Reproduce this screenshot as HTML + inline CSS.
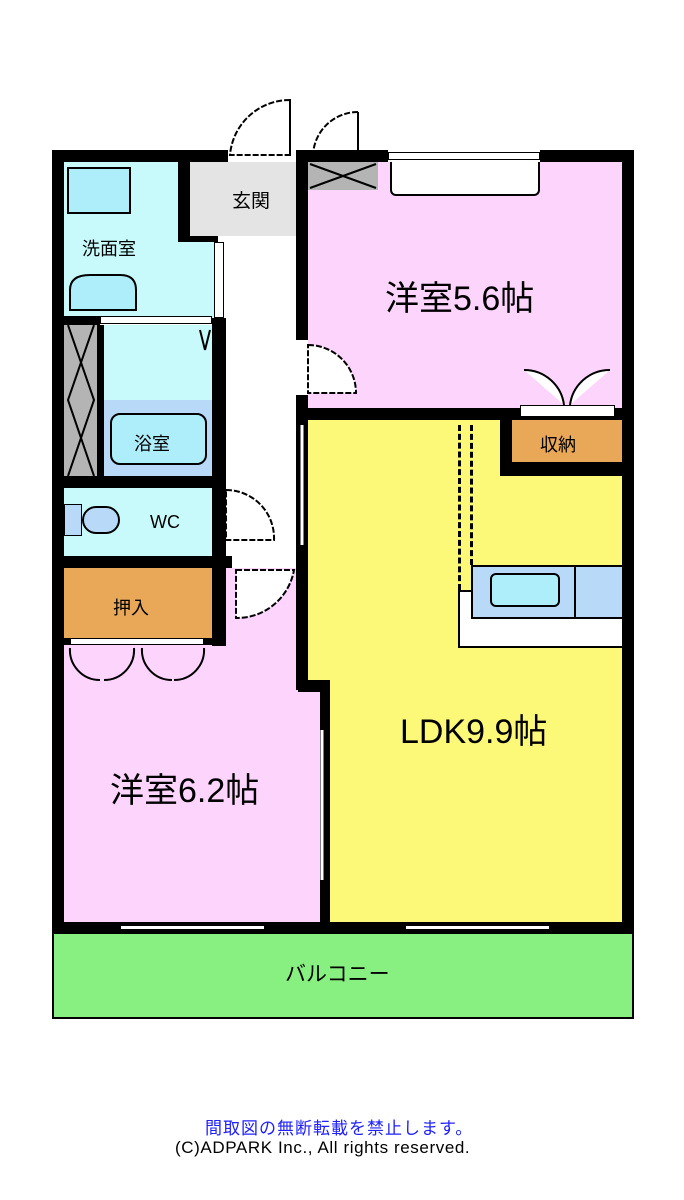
<!DOCTYPE html>
<html><head><meta charset="utf-8"><style>
html,body{margin:0;padding:0;background:#fff;}
#c{position:relative;width:684px;height:1200px;overflow:hidden;font-family:"Liberation Sans","Noto Sans CJK JP",sans-serif;}
.a{position:absolute;box-sizing:border-box;}
.k{background:#000;}
.t{position:absolute;white-space:nowrap;color:#000;}
</style></head><body><div id="c">
<div class="a" style="left:52px;top:932px;width:582px;height:87px;background:#88f080;border:2px solid #000;"></div>
<div class="t" style="left:285px;top:958px;font-size:21px;">バルコニー</div>
<div class="a" style="left:64px;top:162px;width:150px;height:156px;background:#c8fafc;"></div>
<div class="a" style="left:190px;top:162px;width:108px;height:74px;background:#e4e4e4;"></div>
<div class="a" style="left:225px;top:236px;width:73px;height:334px;background:#fff;"></div>
<div class="a" style="left:64px;top:325px;width:34px;height:151px;background:#b4b4b4;"></div>
<svg class="a" style="left:64px;top:325px" width="34" height="151"><path d="M4 0 L30 75 L4 151 M30 0 L4 75 L30 151" stroke="#000" stroke-width="2" fill="none"/></svg>
<div class="a" style="left:104px;top:325px;width:109px;height:151px;background:#c8fafc;"></div>
<div class="a" style="left:104px;top:400px;width:109px;height:76px;background:#b8daf8;"></div>
<div class="a" style="left:110px;top:413px;width:97px;height:52px;background:#aeeefa;border:2px solid #000;border-radius:10px;"></div>
<div class="a" style="left:64px;top:488px;width:149px;height:68px;background:#c8fafc;"></div>
<div class="a" style="left:64px;top:504px;width:18px;height:32px;background:#b8daf8;border:1px solid #000;"></div>
<div class="a" style="left:82px;top:506px;width:38px;height:28px;background:#b8daf8;border:2px solid #000;border-radius:14px;"></div>
<div class="a" style="left:64px;top:568px;width:149px;height:70px;background:#e8a858;"></div>
<div class="a" style="left:64px;top:645px;width:256px;height:280px;background:#fcd4fc;"></div>
<div class="a" style="left:225px;top:568px;width:73px;height:125px;background:#fcd4fc;"></div>
<div class="a" style="left:308px;top:162px;width:314px;height:246px;background:#fcd4fc;"></div>
<div class="a" style="left:308px;top:420px;width:314px;height:262px;background:#fcf878;"></div>
<div class="a" style="left:330px;top:680px;width:292px;height:245px;background:#fcf878;"></div>
<div class="a" style="left:512px;top:420px;width:110px;height:42px;background:#e8a858;"></div>
<div class="a" style="left:458px;top:590px;width:164px;height:58px;background:#fff;border:2px solid #000;border-right:none;"></div>
<div class="a" style="left:471px;top:565px;width:151px;height:54px;background:#b8daf8;border:2px solid #000;border-right:none;"></div>
<div class="a" style="left:574px;top:565px;width:2px;height:54px;background:#000;"></div>
<div class="a" style="left:490px;top:573px;width:70px;height:34px;background:#aeeefa;border:2px solid #000;border-radius:6px;"></div>
<div class="a" style="left:458px;top:425px;width:0;height:165px;border-left:3px dashed #000;"></div>
<div class="a" style="left:470px;top:425px;width:0;height:140px;border-left:3px dashed #000;"></div>
<div class="a k" style="left:52px;top:150px;width:12px;height:782px;"></div>
<div class="a k" style="left:52px;top:150px;width:176px;height:12px;"></div>
<div class="a k" style="left:296px;top:150px;width:92px;height:12px;"></div>
<div class="a k" style="left:540px;top:150px;width:94px;height:12px;"></div>
<div class="a" style="left:388px;top:152px;width:152px;height:8px;border:1px solid #000;background:#fff;"></div>
<div class="a" style="left:390px;top:162px;width:150px;height:34px;background:#fff;border:2px solid #000;border-top:none;border-radius:0 0 6px 6px;"></div>
<div class="a k" style="left:622px;top:150px;width:12px;height:782px;"></div>
<div class="a k" style="left:52px;top:922px;width:582px;height:10px;"></div>
<div class="a" style="left:120px;top:925px;width:145px;height:5px;background:#fff;border:1px solid #000;"></div>
<div class="a" style="left:405px;top:925px;width:145px;height:5px;background:#fff;border:1px solid #000;"></div>
<div class="a k" style="left:178px;top:162px;width:12px;height:80px;"></div>
<div class="a k" style="left:178px;top:236px;width:40px;height:6px;"></div>
<div class="a" style="left:214px;top:242px;width:10px;height:76px;background:#fff;border:1px solid #000;"></div>
<div class="a k" style="left:296px;top:150px;width:12px;height:190px;"></div>
<div class="a k" style="left:296px;top:395px;width:12px;height:295px;"></div>
<div class="a k" style="left:298px;top:680px;width:32px;height:12px;"></div>
<div class="a k" style="left:320px;top:680px;width:10px;height:245px;"></div>
<div class="a k" style="left:296px;top:408px;width:326px;height:12px;"></div>
<div class="a" style="left:520px;top:405px;width:95px;height:12px;background:#fff;border:1px solid #000;"></div>
<div class="a k" style="left:500px;top:420px;width:12px;height:56px;"></div>
<div class="a k" style="left:500px;top:462px;width:122px;height:14px;"></div>
<div class="a k" style="left:212px;top:318px;width:14px;height:252px;"></div>
<div class="a k" style="left:64px;top:316px;width:36px;height:9px;"></div>
<div class="a" style="left:100px;top:316px;width:112px;height:8px;background:#fff;border:1px solid #000;"></div>
<div class="a k" style="left:97px;top:325px;width:7px;height:151px;"></div>
<div class="a k" style="left:52px;top:476px;width:174px;height:12px;"></div>
<div class="a k" style="left:52px;top:556px;width:180px;height:12px;"></div>
<div class="a k" style="left:212px;top:556px;width:14px;height:90px;"></div>
<div class="a k" style="left:52px;top:638px;width:174px;height:7px;"></div>
<div class="a" style="left:70px;top:638px;width:134px;height:7px;background:#fff;border:1px solid #000;"></div>
<svg class="a" style="left:0;top:0" width="684" height="1200">
<path d="M290 100 A60 60 0 0 0 230 155 L290 155 Z" fill="#fff" stroke="#000" stroke-width="2" stroke-dasharray="6 2"/>
<line x1="290" y1="100" x2="290" y2="155" stroke="#000" stroke-width="2"/>
<path d="M358 112 A45 45 0 0 0 313 155" fill="none" stroke="#000" stroke-width="2" stroke-dasharray="6 2"/>
<line x1="358" y1="112" x2="358" y2="155" stroke="#000" stroke-width="2"/>
<rect x="308" y="162" width="70" height="28" fill="#b4b4b4"/>
<path d="M310 164 L376 188 M376 164 L310 188" stroke="#000" stroke-width="2"/>
<path d="M308 345 A48 48 0 0 1 356 393 L308 393 Z" fill="#fff" stroke="#000" stroke-width="2" stroke-dasharray="6 2"/>
<path d="M226 490 A48 48 0 0 1 274 540 L226 540 Z" fill="#fff" stroke="#000" stroke-width="2" stroke-dasharray="6 2"/>
<path d="M236 570 L294 570 A58 58 0 0 1 236 618 Z" fill="#fff" stroke="#000" stroke-width="2" stroke-dasharray="6 2"/>
<path d="M524 370 A40 40 0 0 1 564 405 M610 370 A40 40 0 0 0 570 405" fill="#fff" stroke="#000" stroke-width="2"/>
<path d="M70 648 A30 30 0 0 0 100 680 M134 648 A30 30 0 0 1 104 680 M142 648 A30 30 0 0 0 172 680 M204 648 A30 30 0 0 1 174 680" fill="none" stroke="#000" stroke-width="2"/>
<rect x="68" y="168" width="62" height="45" fill="#aeeefa" stroke="#000" stroke-width="2"/>
<path d="M70 310 L70 290 Q70 275 90 275 L120 275 Q136 275 136 290 L136 310 Z" fill="#aeeefa" stroke="#000" stroke-width="2"/>
<line x1="200" y1="330" x2="205" y2="350" stroke="#000" stroke-width="2"/>
<line x1="210" y1="330" x2="205" y2="350" stroke="#000" stroke-width="2"/>
<line x1="322" y1="730" x2="322" y2="880" stroke="#fff" stroke-width="3"/>
<line x1="302" y1="425" x2="302" y2="545" stroke="#fff" stroke-width="3"/>
</svg>
<div class="t" style="left:232px;top:186px;font-size:19px;">玄関</div>
<div class="t" style="left:82px;top:235px;font-size:18px;">洗面室</div>
<div class="t" style="left:134px;top:430px;font-size:18px;">浴室</div>
<div class="t" style="left:150px;top:512px;font-size:18px;">WC</div>
<div class="t" style="left:113px;top:594px;font-size:18px;">押入</div>
<div class="t" style="left:540px;top:431px;font-size:18px;">収納</div>
<div class="t" style="left:385px;top:271px;font-size:34px;">洋室5.6帖</div>
<div class="t" style="left:400px;top:704px;font-size:34px;">LDK9.9帖</div>
<div class="t" style="left:110px;top:763px;font-size:34px;">洋室6.2帖</div>
<div class="t" style="left:205px;top:1114px;font-size:17px;letter-spacing:1px;color:#2020ff;">間取図の無断転載を禁止します。</div>
<div class="t" style="left:175px;top:1138px;font-size:17px;letter-spacing:0.6px;">(C)ADPARK Inc., All rights reserved.</div>
</div></body></html>
